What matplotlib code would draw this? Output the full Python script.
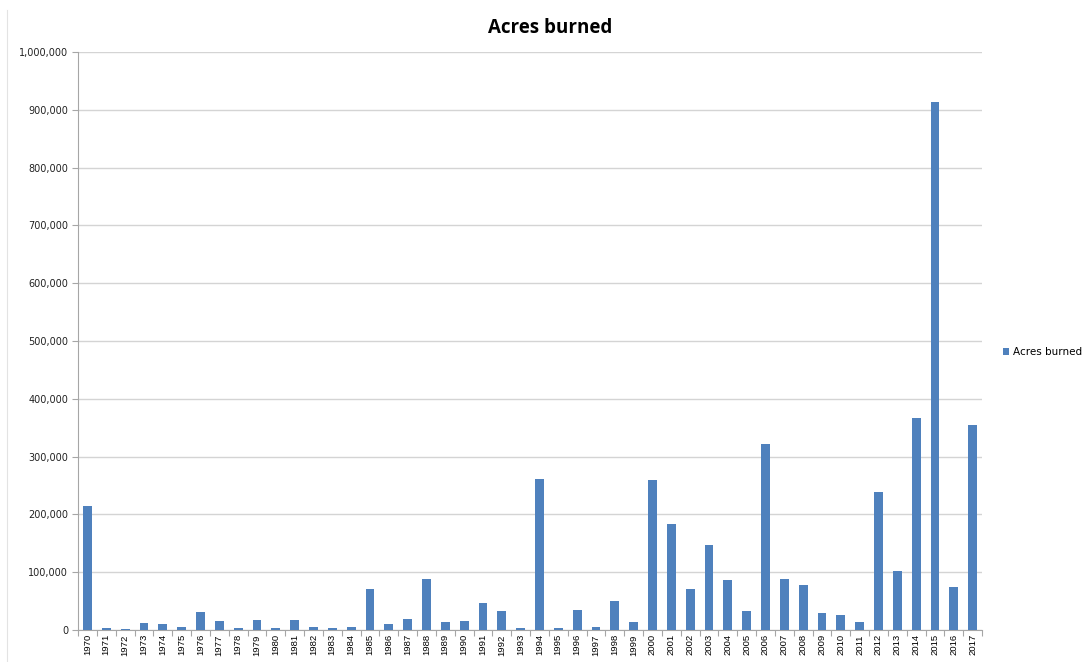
import matplotlib.pyplot as plt
from matplotlib.ticker import FuncFormatter, FixedLocator
from matplotlib.lines import Line2D
import numpy as np

years = list(range(1970, 2018))
acres = [
    215000, 4000, 2300, 12000, 10300, 4600, 31400, 16000, 2900, 17000,
    4000, 17000, 5700, 2900, 5700, 70800, 9700, 18300, 88500, 14300,
    15400, 47400, 33700, 4000, 261000, 4000, 35400, 5700, 50800, 13700,
    259500, 183000, 70200, 147000, 85700, 33700, 322000, 88000, 77700, 30300,
    26300, 13700, 238800, 102900, 366800, 913500, 74900, 354700,
]

bar_color = "#4F81BD"
grid_color = "#D4D4D4"
axis_color = "#A6A6A6"

fig = plt.figure(figsize=(10.82, 6.62), dpi=100)
ax = fig.add_axes([0.0721, 0.0483, 0.8355, 0.8732])

x = np.arange(len(years))
ax.bar(x, acres, width=0.47, color=bar_color, label="Acres burned", zorder=3)

ax.set_xlim(-0.5, len(years) - 0.5)
ax.set_ylim(0, 1000000)
ax.set_yticks(np.arange(0, 1000001, 100000))
ax.yaxis.set_major_formatter(FuncFormatter(lambda v, p: f"{int(v):,}"))
ax.grid(axis="y", color=grid_color, linewidth=1.0, zorder=0)

# category labels in the middle, tick marks on the boundaries
ax.set_xticks(x)
ax.set_xticklabels([str(y) for y in years], rotation=90, fontsize=6.8,
                   family="Liberation Sans")
ax.tick_params(axis="x", length=0, pad=3)
ax.xaxis.set_minor_locator(FixedLocator(np.arange(-0.5, len(years), 1.0)))
ax.tick_params(axis="x", which="minor", length=4, color=axis_color, width=0.8)
ax.tick_params(axis="y", length=4, color=axis_color, width=0.8, labelsize=7,
               pad=3)
for lab in ax.get_yticklabels():
    lab.set_family("DejaVu Sans")
    lab.set_color("#222222")

for side in ["top", "right"]:
    ax.spines[side].set_visible(False)
ax.spines["left"].set_color(axis_color)
ax.spines["bottom"].set_color(axis_color)

fig.text(0.508, 0.957, "Acres burned", ha="center", va="center",
         fontsize=13.5, fontweight="bold", family="Open Sans")

fig.legend(loc="center left", bbox_to_anchor=(0.918, 0.468), frameon=False,
           handlelength=0.6, handleheight=0.6, handletextpad=0.4,
           prop={"family": "DejaVu Sans", "size": 7.5})

# faint edge of the chart frame on the left
fig.add_artist(Line2D([0.0065, 0.0065], [0.0, 0.985], transform=fig.transFigure,
                      color="#E3E3E3", linewidth=0.8))

fig.savefig("out.png", dpi=100)
